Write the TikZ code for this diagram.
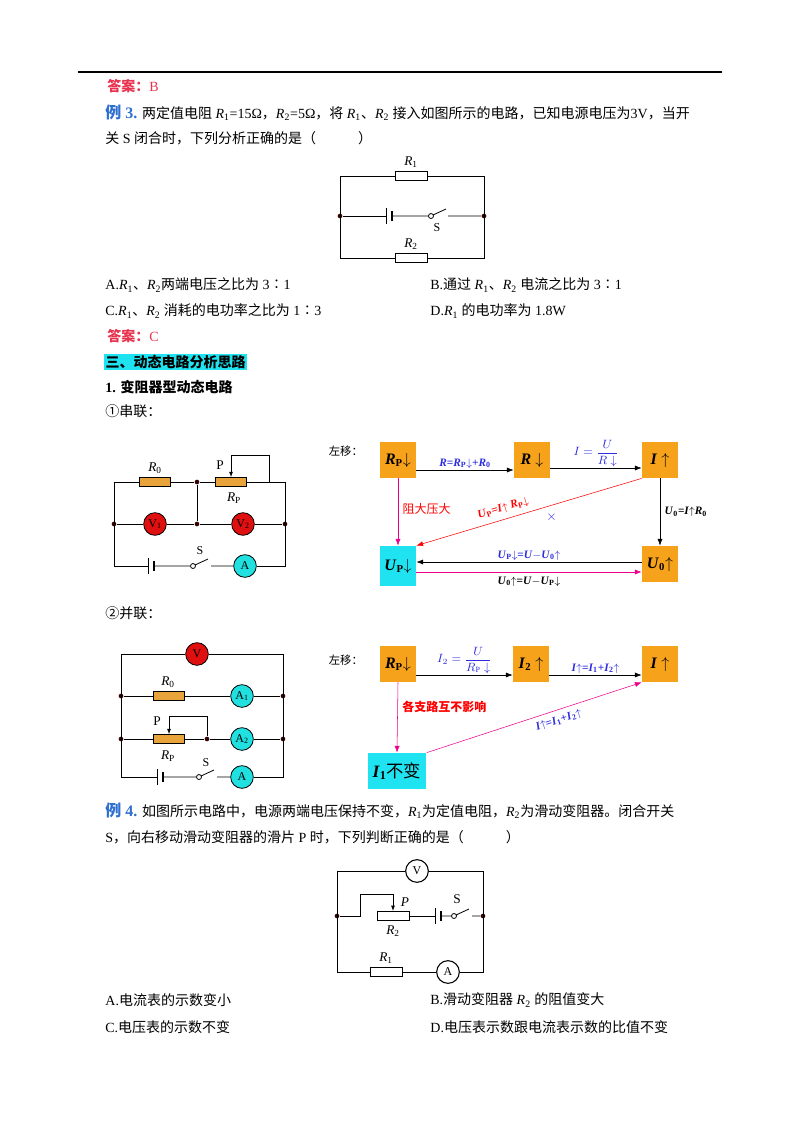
\documentclass[tikz,border=0pt]{standalone}
\usepackage{fontspec}
\setmainfont{Liberation Serif}
\newfontfamily\cjk{Noto Sans CJK SC}
\usetikzlibrary{positioning}
\usetikzlibrary{arrows.meta}
\usetikzlibrary{calc}
\definecolor{ansred}{HTML}{E8334F}
\definecolor{exblue}{HTML}{2F6FD0}
\definecolor{boxorange}{HTML}{F7A21B}
\definecolor{boxcyan}{HTML}{1FE3F0}
\definecolor{flowblue}{HTML}{2B2BE0}
\definecolor{meterred}{HTML}{E01010}
\definecolor{meterteal}{HTML}{20E0E0}
\definecolor{resfill}{HTML}{E8A33A}
\newcommand{\zh}[1]{{\cjk #1}}
\tikzset{
  txt/.style={anchor=west,inner sep=0pt,font=\fontsize{10.5}{12}\selectfont},
  res/.style={draw,thick,fill=resfill,minimum width=23pt,minimum height=6.5pt,inner sep=0pt},
  wres/.style={draw,minimum width=24pt,minimum height=7pt,inner sep=0pt,fill=white},
  meter/.style={circle,draw,minimum size=17pt,inner sep=0pt,font=\fontsize{9}{9}\selectfont},
  dot/.style={circle,fill=black!80!red,inner sep=0pt,minimum size=3.5pt},
  fbox/.style={fill=boxorange,minimum width=27pt,minimum height=27pt,inner sep=0pt,font=\bfseries\fontsize{12}{12}\selectfont},
  flow/.style={-{Latex[length=5pt]},thin},
  flab/.style={inner sep=1pt,font=\bfseries\fontsize{8.5}{9}\selectfont,text=flowblue},
}
\begin{document}
\begin{tikzpicture}[x=0.75pt,y=-0.75pt,line width=0.6pt]
\useasboundingbox (0,0) rectangle (800,1132);
% page text
\draw[line width=0.8pt] (78,72) -- (722,72);
\node[txt,text=ansred] at (107,86) {\zh{\bfseries 答案：}B};
\node[txt] at (105,113) {\textcolor{exblue}{\bfseries\fontsize{12}{12}\selectfont\zh{例} 3.} \zh{两定值电阻} \textit{R}\textsubscript{1}=15Ω\zh{，}\textit{R}\textsubscript{2}=5Ω\zh{，将} \textit{R}\textsubscript{1}\zh{、}\textit{R}\textsubscript{2} \zh{接入如图所示的电路，已知电源电压为}3V\zh{，当开}};
\node[txt] at (105,138) {\zh{关} S \zh{闭合时，下列分析正确的是（\hspace{3em}）}};
% circuit of example 3
\node[wres] (r1) at (411,176) {};
\node[wres] (r2) at (411,258) {};
\node at (411,162) {\textit{R}\textsubscript{1}};
\node at (411,244) {\textit{R}\textsubscript{2}};
\node[dot] (la) at (340,216) {};
\node[dot] (ra) at (484,216) {};
\draw (r1.west) -- (340,176) -- (340,258) -- (r2.west);
\draw (r1.east) -- (484,176) -- (484,258) -- (r2.east);
\draw (la) -- (386,216) (386,208) -- (386,224);
\draw[line width=2pt] (392,211) -- (392,221);
\draw (392,216) -- (428,216) (431,216) circle (2.5) (433,215) -- (446,209) (448,216) -- (ra);
\node at (437,228) {\fontsize{9}{9}\selectfont S};
\node[txt] at (105,285) {A.\textit{R}\textsubscript{1}\zh{、}\textit{R}\textsubscript{2}\zh{两端电压之比为} 3\zh{∶}1};
\node[txt] at (430,285) {B.\zh{通过} \textit{R}\textsubscript{1}\zh{、}\textit{R}\textsubscript{2} \zh{电流之比为} 3\zh{∶}1};
\node[txt] at (105,311) {C.\textit{R}\textsubscript{1}\zh{、}\textit{R}\textsubscript{2} \zh{消耗的电功率之比为} 1\zh{∶}3};
\node[txt] at (430,311) {D.\textit{R}\textsubscript{1} \zh{的电功率为} 1.8W};
\node[txt,text=ansred] at (107,336) {\zh{\bfseries 答案：}C};
\node[txt,fill=boxcyan,inner sep=1pt] at (104,362) {\zh{\bfseries 三、动态电路分析思路}};
\node[txt] at (105,387) {\bfseries 1. \zh{变阻器型动态电路}};
\node[txt] at (105,411) {\zh{①串联：}};
% series circuit
\node[res] (r0) at (155,482) {};
\node[res] (rp) at (231,482) {};
\node at (155,468) {\textit{R}\textsubscript{0}};
\node at (220,465) {P};
\node at (234,498) {\textit{R}\textsubscript{P}};
\node[dot] (m1) at (197,482) {};
\node[dot] (ml) at (114,524) {};
\node[dot] (mm) at (197,524) {};
\node[dot] (mr) at (285,524) {};
\node[meter,fill=meterred] (v1) at (155,524) {V\textsubscript{1}};
\node[meter,fill=meterred] (v2) at (243,524) {V\textsubscript{2}};
\node[meter,fill=meterteal] (am) at (245,566) {A};
\draw (r0.west) -- (114,482) -- (114,566) -- (148,566);
\draw (r0.east) -- (m1) -- (rp.west) (rp.east) -- (285,482) -- (285,566) -- (am.east);
\draw (m1) -- (mm) (ml) -- (v1) -- (mm) -- (v2) -- (mr);
\draw[-{Latex[length=4pt]}] (269,482) -- (269,455) -- (231,455) -- (rp.north);
\draw (148,558) -- (148,574);
\draw[line width=2pt] (154,561) -- (154,571);
\draw (154,566) -- (190,566) (193,566) circle (2.5) (195,565) -- (208,559) (211,566) -- (am.west);
\node at (200,551) {\fontsize{9}{9}\selectfont S};
% series flow chart
\node[anchor=west,font=\fontsize{8.5}{9}\selectfont] at (324,451) {\zh{左移：}};
\node[fbox] (rpa) at (398,460) {\textit{R}\textsubscript{P}$\downarrow$};
\node[fbox] (ra1) at (532,460) {\textit{R} $\downarrow$};
\node[fbox] (ia) at (660,460) {\textit{I} $\uparrow$};
\node[fbox] (u0a) at (660,564) {\textit{U}\textsubscript{0}$\uparrow$};
\node[fbox,fill=boxcyan,minimum height=30pt] (upa) at (398,566) {\textit{U}\textsubscript{P}$\downarrow$};
\draw[flow] (rpa.east |- 0,470) -- node[flab,above] {\textit{R}=\textit{R}\textsubscript{P}$\downarrow$+\textit{R}\textsubscript{0}} (ra1.west |- 0,470);
\draw[flow] (ra1.east |- 0,468) -- node[flab,above,font=\fontsize{9}{10}\selectfont] {$I=\displaystyle\frac{U}{R\downarrow}$} (ia.west |- 0,468);
\draw[flow] (ia.south) -- node[right,font=\bfseries\fontsize{8.5}{9}\selectfont] {\textit{U}\textsubscript{0}=\textit{I}$\uparrow$\textit{R}\textsubscript{0}} (u0a.north);
\draw[flow,magenta] (rpa.south) -- node[right,text=red,font=\fontsize{9}{10}\selectfont,pos=0.45] {\zh{阻大压大}} (upa.north);
\draw[flow,red] (ia.south west) -- node[sloped,above=1pt,pos=0.6,font=\bfseries\fontsize{8.5}{9}\selectfont] {\textit{U}\textsubscript{P}=\textit{I}$\uparrow$ \textit{R}\textsubscript{P}$\downarrow$} node[below=2pt,pos=0.4,text=flowblue] {$\times$} (upa.north east);
\draw[flow] (u0a.west |- 0,562) -- node[flab,above] {\textit{U}\textsubscript{P}$\downarrow$=\textit{U}$-$\textit{U}\textsubscript{0}$\uparrow$} (upa.east |- 0,562);
\draw[flow,magenta] (upa.east |- 0,572) -- node[below,text=black,font=\bfseries\fontsize{8.5}{9}\selectfont] {\textit{U}\textsubscript{0}$\uparrow$=\textit{U}$-$\textit{U}\textsubscript{P}$\downarrow$} (u0a.west |- 0,572);
\node[txt] at (105,613) {\zh{②并联：}};
% parallel circuit
\node[meter,fill=meterred] (vb) at (197,654) {V};
\node[res] (r0b) at (169,696) {};
\node[res] (rpb) at (169,739) {};
\node at (168,682) {\textit{R}\textsubscript{0}};
\node at (157,721) {P};
\node at (168,756) {\textit{R}\textsubscript{P}};
\node[meter,fill=meterteal] (a1) at (242,696) {A\textsubscript{1}};
\node[meter,fill=meterteal] (a2) at (242,739) {A\textsubscript{2}};
\node[meter,fill=meterteal] (ab) at (242,777) {A};
\node[dot] (pl1) at (121,696) {};
\node[dot] (pr1) at (283,696) {};
\node[dot] (pl2) at (121,739) {};
\node[dot] (pr2) at (283,739) {};
\node[dot] (pm) at (207,739) {};
\draw (vb.west) -- (121,654) -- (121,777) -- (157,777);
\draw (vb.east) -- (283,654) -- (283,777) -- (ab.east);
\draw (pl1) -- (r0b) -- (a1) -- (pr1) (pl2) -- (rpb) -- (pm) -- (a2) -- (pr2);
\draw[-{Latex[length=4pt]}] (pm) -- (207,716) -- (169,716) -- (rpb.north);
\draw (157,769) -- (157,785);
\draw[line width=2pt] (163,772) -- (163,782);
\draw (163,777) -- (196,777) (199,777) circle (2.5) (201,776) -- (214,770) (217,777) -- (ab.west);
\node at (206,763) {\fontsize{9}{9}\selectfont S};
% parallel flow chart
\node[anchor=west,font=\fontsize{8.5}{9}\selectfont] at (324,660) {\zh{左移：}};
\node[fbox] (rpc) at (398,664) {\textit{R}\textsubscript{P}$\downarrow$};
\node[fbox] (i2c) at (531,664) {\textit{I}\textsubscript{2} $\uparrow$};
\node[fbox] (ic) at (660,664) {\textit{I} $\uparrow$};
\node[fbox,fill=boxcyan,minimum width=44pt,font=\bfseries\fontsize{13}{13}\selectfont] (i1c) at (397,771) {\textit{I}\textsubscript{1}\zh{\mdseries 不变}};
\draw[flow] (rpc.east |- 0,675) -- node[flab,above,font=\fontsize{9}{10}\selectfont] {$I_2=\displaystyle\frac{U}{R_{\mathrm P}\downarrow}$} (i2c.west |- 0,675);
\draw[flow] (i2c.east |- 0,675) -- node[flab,above] {\textit{I}$\uparrow$=\textit{I}\textsubscript{1}+\textit{I}\textsubscript{2}$\uparrow$} (ic.west |- 0,675);
\draw[flow,magenta] (rpc.south) -- node[right,text=red,font=\bfseries\fontsize{9}{10}\selectfont,pos=0.35] {\zh{各支路互不影响}} (i1c.north);
\draw[flow,magenta] (i1c.north east) -- node[flab,sloped,below=3pt,pos=0.6] {\textit{I}$\uparrow$=\textit{I}\textsubscript{1}+\textit{I}\textsubscript{2}$\uparrow$} (ic.south west);
% example 4
\node[txt] at (105,811) {\textcolor{exblue}{\bfseries\fontsize{12}{12}\selectfont\zh{例} 4.} \zh{如图所示电路中，电源两端电压保持不变，}\textit{R}\textsubscript{1}\zh{为定值电阻，}\textit{R}\textsubscript{2}\zh{为滑动变阻器。闭合开关}};
\node[txt] at (105,837) {S\zh{，向右移动滑动变阻器的滑片} P \zh{时，下列判断正确的是（\hspace{3em}）}};
\node[meter,thick,fill=white] (vd) at (417,871) {V};
\node[wres] (r2d) at (393,916) {};
\node[wres] (r1d) at (386,972) {};
\node[meter,thick,fill=white] (ad) at (448,972) {A};
\node[dot] (dl) at (337,916) {};
\node[dot] (dr) at (483,916) {};
\node at (393,931) {\textit{R}\textsubscript{2}};
\node at (386,958) {\textit{R}\textsubscript{1}};
\node at (405,902) {\textit{P}};
\draw (vd.west) -- (337,871) -- (337,972) -- (r1d.west) (r1d.east) -- (ad.west);
\draw (vd.east) -- (483,871) -- (483,972) -- (ad.east);
\draw[-{Latex[length=4pt]}] (dl) -- (360,916) -- (360,894) -- (393,894) -- (r2d.north);
\draw (r2d.east) -- (435,916) (435,908) -- (435,924);
\draw[line width=2pt] (441,911) -- (441,921);
\draw (441,916) -- (451,916) (454,916) circle (2.5) (456,915) -- (469,909) (472,916) -- (dr);
\node at (457,899) {S};
\node[txt] at (105,1000) {A.\zh{电流表的示数变小}};
\node[txt] at (430,1000) {B.\zh{滑动变阻器} \textit{R}\textsubscript{2} \zh{的阻值变大}};
\node[txt] at (105,1027) {C.\zh{电压表的示数不变}};
\node[txt] at (430,1027) {D.\zh{电压表示数跟电流表示数的比值不变}};
\end{tikzpicture}
\end{document}
